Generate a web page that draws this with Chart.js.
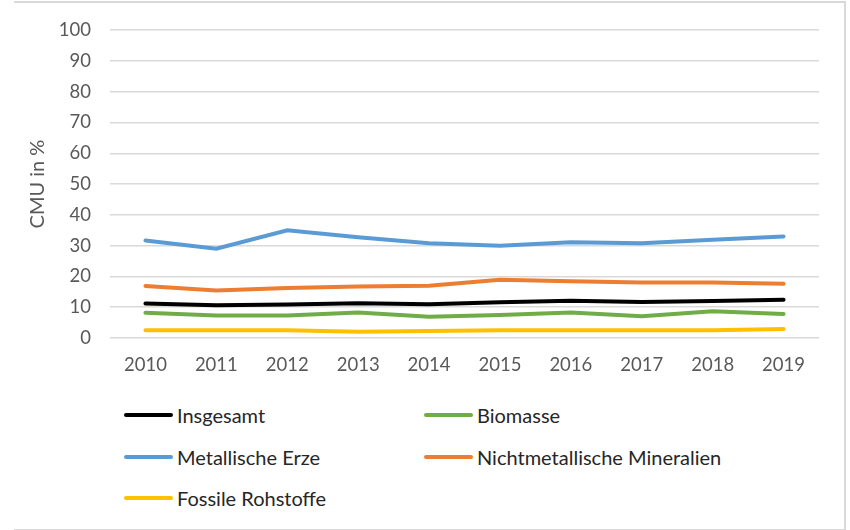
<!DOCTYPE html>
<html>
<head>
<meta charset="utf-8">
<script src="https://cdn.jsdelivr.net/npm/chart.js@4"></script>
<style>
  body { margin: 0; background: #fff; }
  #wrap { position: relative; width: 850px; height: 530px; font-family: Lato, sans-serif; }
  #frame { position: absolute; left: 14px; top: 1px; width: 830px; height: 526px;
           border-top: 2px solid #d9d9d9; border-right: 2px solid #d9d9d9; border-bottom: 2px solid #d9d9d9; }
  #chartBox { position: absolute; left: 0; top: 0; width: 850px; height: 380px; }
  #legend { position: absolute; left: 124px; top: 400px; width: 700px; }
  .item { position: absolute; display: flex; align-items: center; height: 30px;
          font-size: 20px; color: #262626; white-space: nowrap; }
  .swatch { width: 49px; height: 4px; border-radius: 2px; margin-right: 4px; }
</style>
</head>
<body>
<div id="wrap">
  <div id="frame"></div>
  <div id="chartBox"><canvas id="cmu"></canvas></div>
  <div id="legend"></div>
</div>
<script>
const years = ['2010', '2011', '2012', '2013', '2014', '2015', '2016', '2017', '2018', '2019'];
const insgesamt = [11.2, 10.6, 10.9, 11.3, 11.0, 11.6, 12.1, 11.7, 12.0, 12.4];
const biomasse = [8.2, 7.3, 7.3, 8.3, 6.9, 7.5, 8.3, 7.1, 8.7, 7.8];
const metallischeErze = [31.7, 29.0, 35.0, 32.7, 30.8, 30.0, 31.1, 30.8, 31.9, 33.0];
const nichtmetallisch = [16.9, 15.4, 16.2, 16.7, 17.0, 18.9, 18.4, 18.0, 18.0, 17.6];
const fossile = [2.5, 2.5, 2.5, 2.0, 2.3, 2.5, 2.5, 2.5, 2.5, 2.9];
const yTicks = [0, 10, 20, 30, 40, 50, 60, 70, 80, 90, 100];

function line(label, data, color) {
    return {
        label: label,
        data: data,
        borderColor: color,
        backgroundColor: color,
        borderWidth: 4,
        pointRadius: 0,
        tension: 0,
        borderCapStyle: 'round'
    };
}

const ctx = document.getElementById('cmu');

const chart = new Chart(ctx, {
    type: 'line',
    data: {
        labels: years,
        datasets: [
            line('Insgesamt', insgesamt, '#000000'),
            line('Biomasse', biomasse, '#70ad47'),
            line('Metallische Erze', metallischeErze, '#5b9bd5'),
            line('Nichtmetallische Mineralien', nichtmetallisch, '#ed7d31'),
            line('Fossile Rohstoffe', fossile, '#ffc000')
        ]
    },
    options: {
        responsive: true,
        maintainAspectRatio: false,
        animation: false,
        layout: { padding: { top: 29, right: 31, bottom: 2, left: 0 } },
        plugins: { legend: { display: false }, tooltip: { enabled: false } },
        scales: {
            x: {
                offset: true,
                grid: { display: false, drawTicks: false },
                border: { display: false },
                ticks: { color: '#595959', font: { family: 'Lato', size: 18.5 }, padding: 16, maxRotation: 0 },
                afterFit: s => { s.height = 40; }
            },
            y: {
                min: 0,
                max: 100,
                afterBuildTicks: s => { s.ticks = yTicks.map(v => ({ value: v })); },
                grid: { color: '#d9d9d9', lineWidth: 1.5, drawTicks: false },
                border: { display: false },
                ticks: { color: '#595959', font: { family: 'Lato', size: 18.5 }, padding: 19 },
                title: {
                    display: true,
                    text: 'CMU in %',
                    color: '#595959',
                    font: { family: 'Lato', size: 20 },
                    padding: { top: 26, bottom: 0 }
                },
                afterFit: s => { s.width = 110; }
            }
        }
    }
});

// two-column legend as in the original
const legend = document.getElementById('legend');
const cols = [0, 300];
const rows = [0, 42, 83];
chart.data.datasets.forEach((ds, i) => {
    const el = document.createElement('div');
    el.className = 'item';
    el.style.left = cols[i % 2] + 'px';
    el.style.top = rows[Math.floor(i / 2)] + 'px';
    el.innerHTML = '<span class="swatch" style="background:' + ds.borderColor + '"></span>' + ds.label;
    legend.appendChild(el);
});
</script>
</body>
</html>
